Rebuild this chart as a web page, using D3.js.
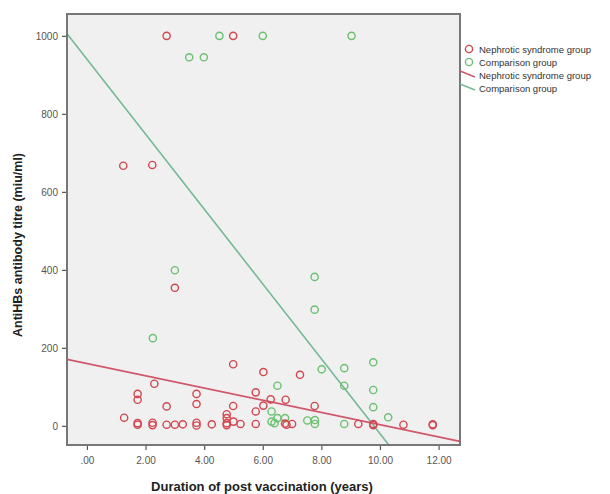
<!DOCTYPE html>
<html>
<head>
<meta charset="utf-8">
<script src="https://cdn.jsdelivr.net/npm/d3@7"></script>
<style>
  body { margin: 0; background: #fff; }
  text { font-family: "Liberation Sans", Arial, sans-serif; }
</style>
</head>
<body>
<div id="chart"></div>
<script>
/* SPSS style scatter with fit lines */

const width = 610, height = 494,
    margin = ({ top: 14, right: 150, bottom: 49, left: 67 });

// Nephrotic syndrome group: [years, titre]
const nephrotic = [
  [2.72, 1000], [4.99, 1000], [1.24, 667], [2.23, 669], [3.0, 354],
  [4.99, 158], [6.02, 138], [7.27, 131], [2.3, 108],
  [1.73, 82], [1.73, 67], [3.74, 82], [3.74, 56], [2.72, 50],
  [5.76, 86], [6.27, 68], [6.02, 52], [6.78, 67], [4.99, 51], [7.77, 51],
  [5.76, 37], [4.77, 30], [4.77, 20], [1.27, 21],
  [1.73, 7], [1.73, 3], [2.24, 8], [2.24, 2], [2.72, 3], [3.0, 3], [3.27, 4],
  [3.74, 8], [3.74, 1], [4.26, 4], [4.77, 7], [4.77, 2], [5.0, 11], [5.24, 5],
  [5.76, 5], [6.76, 6], [6.81, 3], [7.0, 5], [9.26, 5], [9.77, 5], [9.77, 2],
  [10.8, 3], [11.8, 4], [11.8, 2]
];

// Comparison group: [years, titre]
const comparison = [
  [4.52, 1000], [6.0, 1000], [9.03, 1000], [3.49, 945], [3.99, 945],
  [3.0, 399], [7.77, 382], [7.77, 298], [2.25, 225],
  [8.01, 145], [8.78, 148], [9.77, 163], [6.5, 103], [8.78, 103], [9.77, 92],
  [9.77, 48], [6.3, 37], [10.28, 22],
  [6.3, 11], [6.5, 20], [6.4, 7], [6.76, 20], [7.52, 14], [7.78, 5], [7.78, 15], [8.78, 5]
];

// fit lines: [intercept, slope]
const nephroticFit = [160, -15.7];
const comparisonFit = [940, -96];

const xTicks = [0, 2, 4, 6, 8, 10, 12];
const yTicks = [0, 200, 400, 600, 800, 1000];
const legendLabels = ["Nephrotic syndrome group", "Comparison group",
                      "Nephrotic syndrome group", "Comparison group"];

const red = "#d2464f", green = "#6cc070",
    redLine = "#d0566a", greenLine = "#72b894";

const svg = d3.select("#chart")
  .append("svg")
  .attr("width", width)
  .attr("height", height);

const x = d3.scaleLinear()
  .domain([-0.68, 12.73])
  .range([margin.left, width - margin.right]);

const y = d3.scaleLinear()
  .domain([-49, 1056])
  .range([height - margin.bottom, margin.top]);

svg.append("defs").append("clipPath").attr("id", "plot")
  .append("rect")
  .attr("x", margin.left).attr("y", margin.top)
  .attr("width", width - margin.right - margin.left)
  .attr("height", height - margin.bottom - margin.top);

// plot background
svg.append("rect")
  .attr("x", margin.left).attr("y", margin.top)
  .attr("width", width - margin.right - margin.left)
  .attr("height", height - margin.bottom - margin.top)
  .attr("fill", "#f0f0f0");

// axes
const xAxis = svg.append("g")
  .attr("transform", `translate(0,${height - margin.bottom})`)
  .call(d3.axisBottom(x).tickValues(xTicks).tickSize(5).tickSizeOuter(0)
    .tickFormat(d => d === 0 ? ".00" : d3.format(".2f")(d)));

const yAxis = svg.append("g")
  .attr("transform", `translate(${margin.left},0)`)
  .call(d3.axisLeft(y).tickValues(yTicks).tickSize(5).tickSizeOuter(0)
    .tickFormat(d3.format("d")));

for (const g of [xAxis, yAxis]) {
  g.select(".domain").remove();
  g.selectAll(".tick line").attr("stroke", "#555").attr("stroke-width", 1.2);
  g.selectAll(".tick text")
    .attr("fill", "#555")
    .style("font-size", "10px");
}
xAxis.selectAll(".tick text").attr("dy", "1.1em");
yAxis.selectAll(".tick text").attr("dx", "-1px");

// fit lines
const fitLine = (fit, color) => svg.append("line")
  .attr("clip-path", "url(#plot)")
  .attr("x1", x(-0.68)).attr("y1", y(fit[0] + fit[1] * -0.68))
  .attr("x2", x(12.73)).attr("y2", y(fit[0] + fit[1] * 12.73))
  .attr("stroke", color)
  .attr("stroke-width", 1.6);

fitLine(comparisonFit, greenLine);
fitLine(nephroticFit, redLine);

// points
const dots = (data, color) => svg.append("g")
  .selectAll("circle")
  .data(data)
  .join("circle")
  .attr("cx", d => x(d[0]))
  .attr("cy", d => y(d[1]))
  .attr("r", 3.6)
  .attr("fill", "none")
  .attr("stroke", color)
  .attr("stroke-width", 1.4);

dots(comparison, green);
dots(nephrotic, red);

// frame
svg.append("rect")
  .attr("x", margin.left).attr("y", margin.top)
  .attr("width", width - margin.right - margin.left)
  .attr("height", height - margin.bottom - margin.top)
  .attr("fill", "none")
  .attr("stroke", "#777")
  .attr("stroke-width", 2);

// axis titles
svg.append("text")
  .attr("x", 262).attr("y", 491)
  .attr("text-anchor", "middle")
  .attr("font-weight", "bold")
  .style("font-size", "13px")
  .attr("fill", "#222")
  .text("Duration of post vaccination (years)");

svg.append("text")
  .attr("transform", "translate(22,245) rotate(-90)")
  .attr("text-anchor", "middle")
  .attr("font-weight", "bold")
  .style("font-size", "12.5px")
  .attr("fill", "#222")
  .text("AntiHBs antibody titre (miu/ml)");

// legend
const legend = svg.append("g");
legendLabels.forEach((label, i) => {
  const ly = 49 + i * 13;
  const color = i % 2 === 0 ? red : green;
  if (i < 2) {
    legend.append("circle")
      .attr("cx", 469).attr("cy", ly)
      .attr("r", 3.6)
      .attr("fill", "none")
      .attr("stroke", color)
      .attr("stroke-width", 1.4);
  } else {
    legend.append("line")
      .attr("x1", 460).attr("y1", ly - 4)
      .attr("x2", 475).attr("y2", ly + 2)
      .attr("stroke", i === 2 ? redLine : greenLine)
      .attr("stroke-width", 1.4);
  }
  legend.append("text")
    .attr("x", 479).attr("y", ly + 3.5)
    .attr("fill", "#333")
    .style("font-size", "9.5px")
    .text(label);
});
</script>
</body>
</html>
